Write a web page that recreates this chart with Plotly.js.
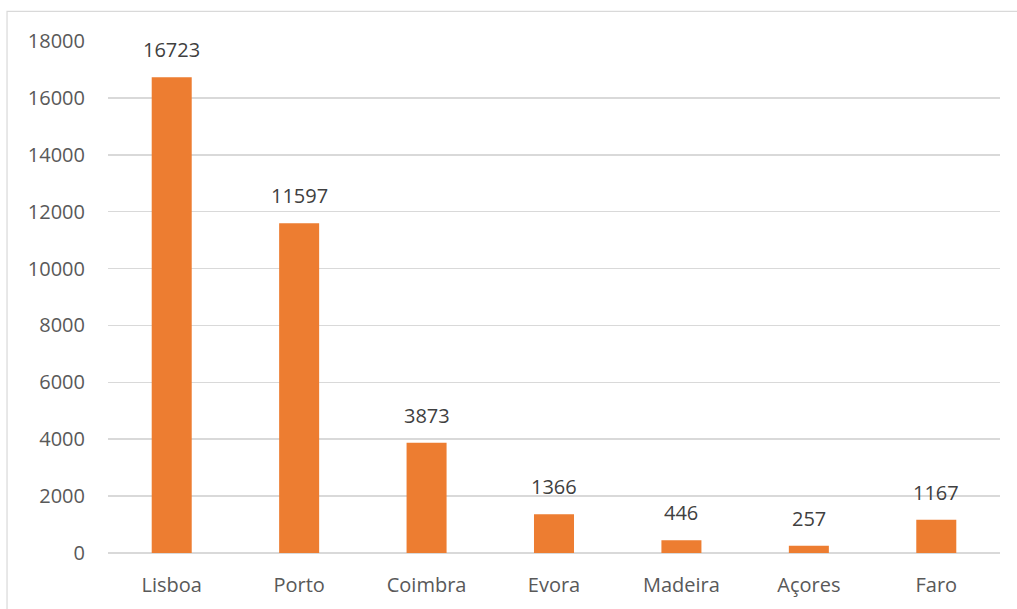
<!DOCTYPE html>
<html>
<head>
<meta charset="utf-8">
<script src="https://cdn.plot.ly/plotly-3.0.1.min.js"></script>
<style>
html,body{margin:0;padding:0;background:#fff;overflow:hidden;}
#chart{width:1017px;height:609px;}
</style>
</head>
<body>
<div id="chart"></div>
<script>
const categories = ["Lisboa", "Porto", "Coimbra", "Evora", "Madeira", "Açores", "Faro"];
const values = [16723, 11597, 3873, 1366, 446, 257, 1167];
const yTicks = [0, 2000, 4000, 6000, 8000, 10000, 12000, 14000, 16000, 18000];

const fontFam = "'Open Sans', 'Liberation Sans', sans-serif";

const trace = {
  type: "bar",
  x: categories,
  y: values,
  marker: {color: "#ED7D31"},
  hoverinfo: "x+y"
};

const annotations = categories.map((c, i) => ({
  x: c, y: values[i], xref: "x", yref: "y",
  text: String(values[i]), showarrow: false,
  yanchor: "bottom", yshift: 12,
  font: {family: fontFam, size: 20, color: "#404040"}
}));

const layout = {
  width: 1017, height: 609,
  margin: {l: 108, r: 17, t: 41, b: 56, pad: 0},
  paper_bgcolor: "#ffffff",
  plot_bgcolor: "#ffffff",
  bargap: 0.686,
  showlegend: false,
  xaxis: {
    type: "category",
    showgrid: false, zeroline: false, showline: false,
    ticks: "", ticklabelstandoff: 18,
    tickfont: {family: fontFam, size: 20, color: "#595959"}
  },
  yaxis: {
    range: [0, 18000],
    tickvals: yTicks,
    ticktext: yTicks.map(String),
    showgrid: true, gridcolor: "#D9D9D9", gridwidth: 1.5,
    zeroline: true, zerolinecolor: "#D9D9D9", zerolinewidth: 1.5,
    showline: false, ticks: "", ticklabelstandoff: 22,
    tickfont: {family: fontFam, size: 20, color: "#595959"}
  },
  annotations: annotations,
  shapes: [{
    type: "rect", xref: "paper", yref: "paper",
    x0: -0.1132, x1: 1.5, y0: -0.5, y1: 1.058,
    line: {color: "#D9D9D9", width: 1.2}, fillcolor: "rgba(0,0,0,0)", layer: "below"
  }]
};

Plotly.newPlot("chart", [trace], layout, {displayModeBar: false, staticPlot: true});
</script>
</body>
</html>
